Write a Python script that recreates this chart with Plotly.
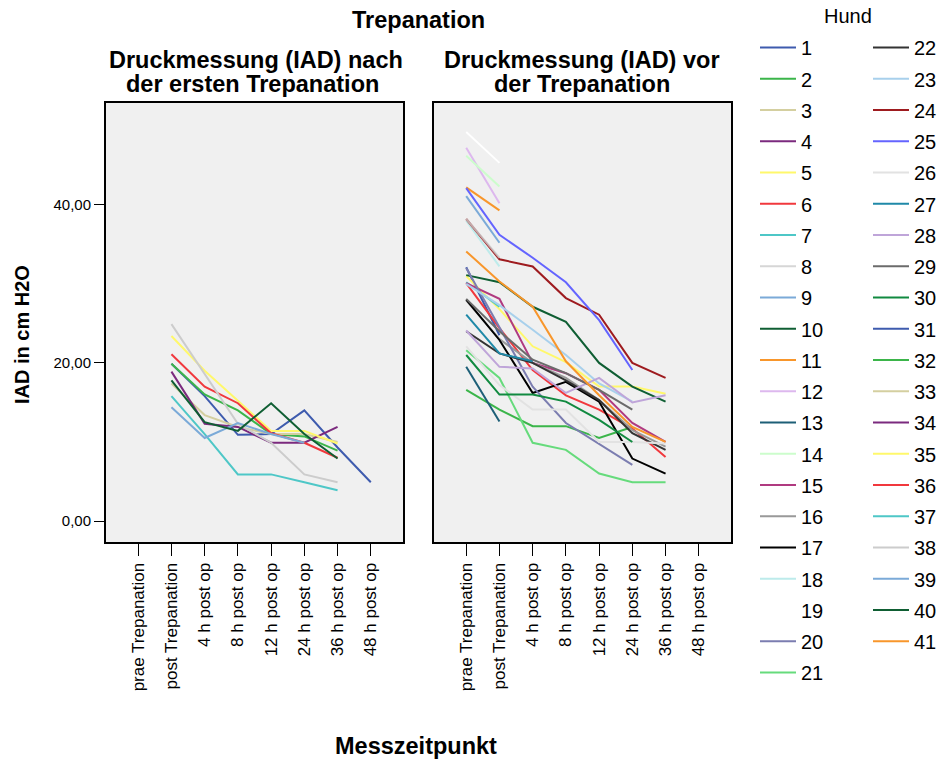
import plotly.graph_objects as go

# Measurement time points (x categories)
zeitpunkte = ["prae Trepanation", "post Trepanation", "4 h post op", "8 h post op",
              "12 h post op", "24 h post op", "36 h post op", "48 h post op"]

# IAD in cm H2O per dog, one value per time point (None = not measured)
vor_trepanation = {
    1: [32.1, 23.5, None, None, None, None, None, None],
    2: [16.6, 14.1, 12.0, 12.0, 10.5, 11.9, None, None],
    3: [None] * 8,
    4: [None] * 8,
    5: [31.0, 26.8, 22.1, 20.1, 17.0, 17.0, 16.1, None],
    6: [30.1, 24.4, 19.1, 15.9, 14.1, 11.7, 8.1, None],
    7: [30.2, 27.1, None, None, None, None, None, None],
    8: [38.2, 33.3, None, None, None, None, None, None],
    9: [41.1, 35.2, None, None, None, None, None, None],
    10: [31.1, 30.2, 27.1, 25.2, 20.0, 17.0, 15.1, None],
    11: [42.2, 39.3, None, None, None, None, None, None],
    12: [47.2, 40.2, None, None, None, None, None, None],
    13: [19.5, 12.6, None, None, None, None, None, None],
    14: [46.2, 42.3, None, None, None, None, None, None],
    15: [30.1, 28.1, 20.0, 18.7, 16.6, 12.4, 10.0, None],
    16: [27.9, 23.0, 20.0, 18.1, 15.3, 11.5, 9.4, None],
    17: [28.0, 22.9, 16.2, 17.6, 15.1, 7.9, 6.0, None],
    18: [38.0, 32.2, None, None, None, None, None, None],
    19: [49.2, 45.3, None, None, None, None, None, None],
    20: [32.0, 24.5, 17.0, 12.4, 9.8, 7.1, None, None],
    21: [21.6, 18.1, 9.9, 9.0, 6.0, 4.9, 4.9, None],
    22: [24.0, 21.2, 20.0, 17.8, 15.3, 11.1, 9.0, None],
    23: [30.0, 27.3, 24.2, 21.0, 17.4, 15.1, None, None],
    24: [38.2, 33.1, 32.2, 28.2, 26.1, 20.0, 18.1, None],
    25: [42.1, 36.2, 33.3, 30.2, 25.4, 19.1, None, None],
    26: [22.1, 17.2, 14.1, 14.1, 10.0, 10.0, 9.8, None],
    27: [26.1, 21.2, 20.2, None, None, None, None, None],
    28: [24.1, 19.5, 19.3, 16.2, 18.1, 15.0, 15.9, None],
    29: [28.1, 24.0, 20.4, 18.7, 16.6, 14.1, None, None],
    30: [21.0, 16.0, 16.0, 15.1, 12.8, 10.0, None, None],
    41: [34.1, 30.3, 27.1, 20.2, 15.9, 11.9, 10.0, None],
}

nach_erster_trepanation = {
    31: [None, 19.9, 15.8, 10.9, 11.0, 14.0, 9.3, 4.9],
    32: [None, 19.9, 16.0, 14.0, 11.0, 10.7, 8.9, None],
    33: [None, 17.4, 13.4, 11.9, 11.0, 11.0, 10.0, None],
    34: [None, 18.9, 12.3, 11.9, 9.9, 9.9, 11.9, None],
    35: [None, 23.4, 19.0, 15.2, 11.4, 11.4, 9.8, None],
    36: [None, 21.1, 17.0, 14.9, 11.1, 9.9, 8.0, None],
    37: [None, 15.8, 11.0, 5.9, 5.9, 4.9, 3.9, None],
    38: [None, 24.9, 18.6, 12.3, 9.9, 5.9, 4.9, None],
    39: [None, 14.4, 10.5, 12.4, 11.0, 9.9, None, None],
    40: [None, 17.8, 12.5, 11.4, 14.9, 11.0, 7.9, None],
}

# Line colour per dog (palette repeats after 30)
basis_farben = [
    "#3E5BAE", "#3BB54A", "#D4CFA0", "#7B2A7E", "#FFF86B", "#F1383D", "#4EC7C7",
    "#CCCCCC", "#7BAAD8", "#0F5E33", "#F8962B", "#DDB8EE", "#1D5F77", "#CCFDCC",
    "#B03A80", "#999999", "#000000", "#BDEBEB", "#FFFFFF", "#7B7DB0", "#66DB7C",
    "#333333", "#A8D0EC", "#9E1B1F", "#6464FF", "#E2E2E2", "#1F89A8", "#BFA5D9",
    "#6B6B6B", "#118A40",
]
farben = {h: basis_farben[(h - 1) % 30] for h in range(1, 42)}

FONT = "Liberation Sans, Arial, sans-serif"

fig = go.Figure()

# draw order: light grey dog 8 lies over dog 24 on the first segment
zeichen_reihenfolge = [h for h in range(1, 42) if h != 8] + [8]

for hund in zeichen_reihenfolge:
    if hund in nach_erster_trepanation:
        werte, xa = nach_erster_trepanation[hund], "x"
    else:
        werte, xa = vor_trepanation[hund], "x2"
    fig.add_trace(go.Scatter(
        x=zeitpunkte, y=werte, xaxis=xa, yaxis="y",
        mode="lines", name=str(hund),
        line=dict(color=farben[hund], width=2),
        opacity=0.8 if hund == 8 else 1.0,
        legend="legend" if hund <= 21 else "legend2",
        legendgroup=str(hund), legendrank=hund,
        hoverinfo="skip",
    ))

achse_x = dict(
    type="category", categoryorder="array", categoryarray=zeitpunkte,
    range=[-1, 8], tickangle=-90, ticks="outside", ticklen=12, tickwidth=1,
    tickcolor="black", showgrid=False, zeroline=False, showline=False,
    tickfont=dict(family=FONT, size=17, color="black"),
)

L, R, T, B = 105, 209, 102, 219
W = 941 - L - R
H = 543 - 102
links_ende = (404 - L) / W
rechts_start = (433 - L) / W


def py(pix):
    return (543 - pix) / H


def px(pix):
    return (pix - L) / W


legende = dict(
    y=py(28), xanchor="left", yanchor="top",
    font=dict(family=FONT, size=20, color="black"), itemwidth=36,
    tracegroupgap=2.25, bgcolor="rgba(0,0,0,0)", traceorder="grouped",
    maxheight=740,
)

fig.update_layout(
    width=941, height=762,
    margin=dict(l=L, r=R, t=T, b=B, autoexpand=False),
    paper_bgcolor="white", plot_bgcolor="white",
    showlegend=True,
    xaxis=dict(domain=[0, links_ende], anchor="y", **achse_x),
    xaxis2=dict(domain=[rechts_start, 1], anchor="y", **achse_x),
    yaxis=dict(
        range=[-2.78, 53.0], tickvals=[0, 20, 40], ticktext=["0,00", "20,00", "40,00"],
        ticks="outside", ticklen=10, tickcolor="black", showgrid=False, zeroline=False,
        showline=False, tickfont=dict(family=FONT, size=15, color="black"),
    ),
    legend=dict(x=px(755), **legende),
    legend2=dict(x=px(868), **legende),
)

# panel backgrounds and frames
for xr in ["x domain", "x2 domain"]:
    fig.add_shape(type="rect", xref=xr, yref="y domain", x0=0, x1=1, y0=0, y1=1,
                  fillcolor="#F0F0F0", line=dict(color="black", width=2), layer="below")

texte = [
    ("<b>Trepanation</b>", 418, 20, 23.5),
    ("<b>Druckmessung (IAD) nach</b>", 256, 60, 23.5),
    ("<b>der ersten Trepanation</b>", 252, 84, 23.5),
    ("<b>Druckmessung (IAD) vor</b>", 582, 60, 23.5),
    ("<b>der Trepanation</b>", 582, 84, 23.5),
    ("<b>Messzeitpunkt</b>", 416, 746, 23.5),
    ("Hund", 848, 16, 20),
]
for text, x, y, size in texte:
    fig.add_annotation(text=text, x=px(x), y=py(y), xref="paper", yref="paper",
                       xanchor="center", yanchor="middle", showarrow=False,
                       font=dict(family=FONT, size=size, color="black"))

fig.add_annotation(text="<b>IAD in cm H2O</b>", x=px(22), y=py(335), xref="paper",
                   yref="paper", textangle=-90, showarrow=False,
                   xanchor="center", yanchor="middle",
                   font=dict(family=FONT, size=20, color="black"))

fig.write_html("out.html")
